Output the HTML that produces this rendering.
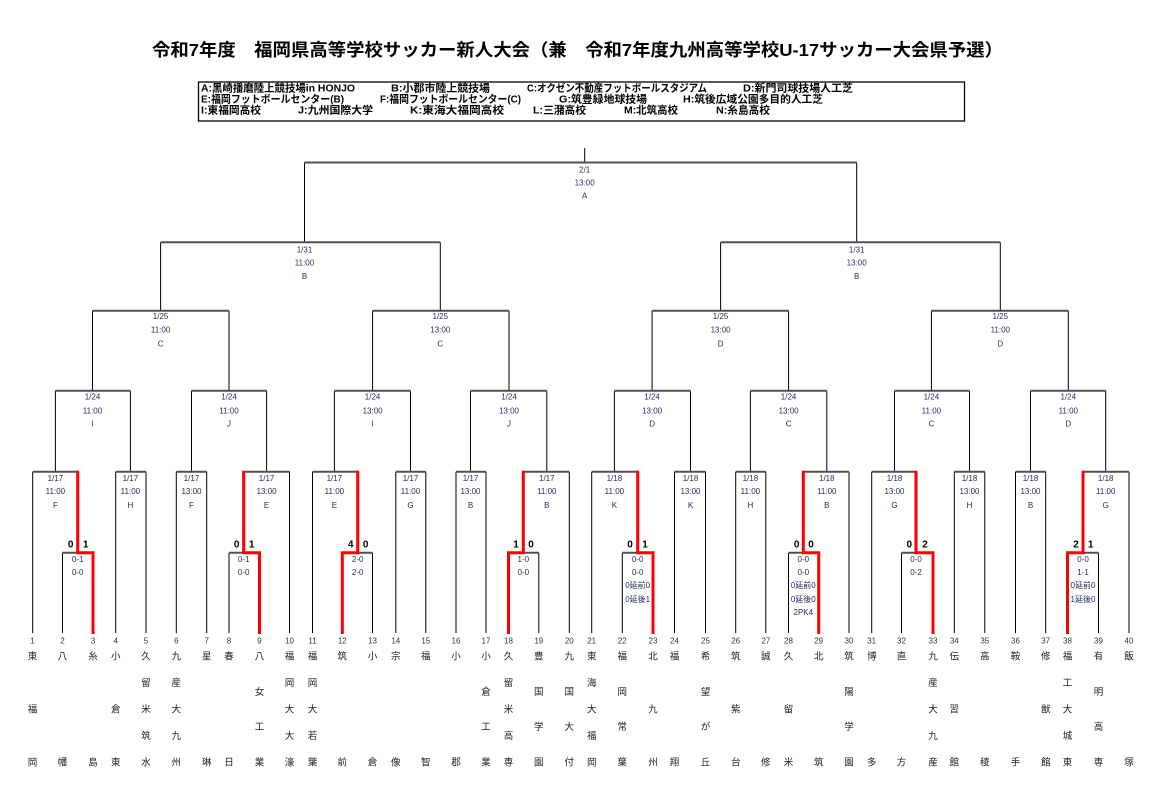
<!DOCTYPE html>
<html><head><meta charset="utf-8"><style>
html,body{margin:0;padding:0;background:#fff;}
svg{display:block}
.ln{stroke:#000;stroke-width:1;fill:none}
.bar{stroke:#505050;stroke-width:2;fill:none}
.red{stroke:#ff0000;stroke-width:3;fill:none;stroke-linejoin:miter}
.lb{font-family:"Liberation Sans","Noto Sans CJK JP",sans-serif;font-size:8px;fill:#1f2b5c;text-anchor:middle;dominant-baseline:central}
.rs{font-family:"Liberation Sans","Noto Sans CJK JP",sans-serif;font-size:8px;fill:#1f2b5c;text-anchor:middle;dominant-baseline:central}
.sc{font-family:"Liberation Sans",sans-serif;font-size:10px;font-weight:bold;fill:#000;text-anchor:middle;dominant-baseline:central}
.nm{font-family:"Liberation Sans",sans-serif;font-size:8px;fill:#333;text-anchor:middle;dominant-baseline:central}
.tm{font-family:"Liberation Sans","Noto Sans CJK JP",sans-serif;font-size:9.5px;fill:#222;text-anchor:middle;dominant-baseline:central}
.tt{font-family:"Liberation Sans","Noto Sans CJK JP",sans-serif;font-size:17.5px;font-weight:bold;fill:#000;dominant-baseline:central}
.lg{font-family:"Liberation Sans","Noto Sans CJK JP",sans-serif;font-size:10.5px;font-weight:bold;fill:#000;dominant-baseline:central}
</style></head><body>
<svg width="1159" height="796" viewBox="0 0 1159 796" xmlns="http://www.w3.org/2000/svg">
<rect width="1159" height="796" fill="#fff"/>
<text class="tt" x="152" y="50" textLength="851" lengthAdjust="spacingAndGlyphs">令和7年度　福岡県高等学校サッカー新人大会（兼　令和7年度九州高等学校U-17サッカー大会県予選）</text>

<rect x="198.5" y="82" width="766" height="39" fill="none" stroke="#000" stroke-width="1.3"/>
<text class="lg" x="201" y="88.5" textLength="154" lengthAdjust="spacingAndGlyphs">A:黒崎播磨陸上競技場in HONJO</text>
<text class="lg" x="391" y="88.5" textLength="99" lengthAdjust="spacingAndGlyphs">B:小郡市陸上競技場</text>
<text class="lg" x="527" y="88.5" textLength="180" lengthAdjust="spacingAndGlyphs">C:オクゼン不動産フットボールスタジアム</text>
<text class="lg" x="743" y="88.5" textLength="110" lengthAdjust="spacingAndGlyphs">D:新門司球技場人工芝</text>
<text class="lg" x="201" y="99.5" textLength="143" lengthAdjust="spacingAndGlyphs">E:福岡フットボールセンター(B)</text>
<text class="lg" x="380" y="99.5" textLength="141" lengthAdjust="spacingAndGlyphs">F:福岡フットボールセンター(C)</text>
<text class="lg" x="559" y="99.5" textLength="88" lengthAdjust="spacingAndGlyphs">G:筑豊緑地球技場</text>
<text class="lg" x="683" y="99.5" textLength="140" lengthAdjust="spacingAndGlyphs">H:筑後広域公園多目的人工芝</text>
<text class="lg" x="201" y="110.5" textLength="60" lengthAdjust="spacingAndGlyphs">I:東福岡高校</text>
<text class="lg" x="298" y="110.5" textLength="75" lengthAdjust="spacingAndGlyphs">J:九州国際大学</text>
<text class="lg" x="410" y="110.5" textLength="94" lengthAdjust="spacingAndGlyphs">K:東海大福岡高校</text>
<text class="lg" x="533" y="110.5" textLength="53" lengthAdjust="spacingAndGlyphs">L:三潴高校</text>
<text class="lg" x="624" y="110.5" textLength="54" lengthAdjust="spacingAndGlyphs">M:北筑高校</text>
<text class="lg" x="716" y="110.5" textLength="54" lengthAdjust="spacingAndGlyphs">N:糸島高校</text>

<!-- black verticals -->
<path class="ln" d="M584.7 148V162.5
M304.5 162.5V242.3 M856.7 162.5V242.3
M160.6 242.3V310.7 M440.3 242.3V310.7 M720.6 242.3V310.7 M1000.3 242.3V310.7
M92.5 310.7V390.7 M229 310.7V390.7 M372.6 310.7V390.7 M509 310.7V390.7 M652.1 310.7V390.7 M788.6 310.7V390.7 M931.4 310.7V390.7 M1068.3 310.7V390.7
M55.4 390.7V471.7 M130.4 390.7V471.7 M191.5 390.7V471.7 M266.6 390.7V471.7 M334.4 390.7V471.7 M410.5 390.7V471.7 M470.5 390.7V471.7 M546.8 390.7V471.7
M614.4 390.7V471.7 M690.5 390.7V471.7 M750.4 390.7V471.7 M826.8 390.7V471.7 M894.5 390.7V471.7 M969.5 390.7V471.7 M1030.5 390.7V471.7 M1105.7 390.7V471.7
M32.7 471.7V633 M115.7 471.7V633 M146 471.7V633 M176.3 471.7V633 M206.7 471.7V633 M289.5 471.7V633
M312.5 471.7V633 M395.8 471.7V633 M425.8 471.7V633 M456 471.7V633 M486 471.7V633 M569.3 471.7V633
M591.7 471.7V633 M674.5 471.7V633 M705.5 471.7V633 M735.7 471.7V633 M765.8 471.7V633 M849 471.7V633
M871.7 471.7V633 M954.3 471.7V633 M984.8 471.7V633 M1015.5 471.7V633 M1045.7 471.7V633 M1129 471.7V633
M62.5 552.7V633 M229 552.7V633 M372.5 552.7V633 M538.8 552.7V633 M622.3 552.7V633 M788.5 552.7V633 M901.5 552.7V633 M1098.5 552.7V633"/>

<!-- horizontal bars -->
<path class="bar" d="M304.5 162.5H856.7
M160.6 242.3H440.3 M720.6 242.3H1000.3
M92.5 310.7H229 M372.6 310.7H509 M652.1 310.7H788.6 M931.4 310.7H1068.3
M55.4 390.7H130.4 M191.5 390.7H266.6 M334.4 390.7H410.5 M470.5 390.7H546.8 M614.4 390.7H690.5 M750.4 390.7H826.8 M894.5 390.7H969.5 M1030.5 390.7H1105.7
M32.7 471.7H77.7 M115.7 471.7H146 M176.3 471.7H206.7 M243.7 471.7H289.5 M312.5 471.7H357.7 M395.8 471.7H425.8 M456 471.7H486 M523.3 471.7H569.3
M591.7 471.7H637.7 M674.5 471.7H705.5 M735.7 471.7H765.8 M803.3 471.7H849 M871.7 471.7H916 M954.3 471.7H984.8 M1015.5 471.7H1045.7 M1083 471.7H1129
M62.5 552.7H77.7 M229 552.7H243.7 M357.7 552.7H372.5 M523.3 552.7H538.8 M622.3 552.7H637.7 M788.5 552.7H803.3 M901.5 552.7H916 M1083 552.7H1098.5"/>

<!-- red winner paths -->
<path class="red" d="M77.7 470.7V552.7H93V634"/>
<path class="red" d="M243.7 470.7V552.7H259.5V634"/>
<path class="red" d="M357.7 470.7V552.7H342.3V634"/>
<path class="red" d="M523.3 470.7V552.7H508.5V634"/>
<path class="red" d="M637.7 470.7V552.7H653V634"/>
<path class="red" d="M803.3 470.7V552.7H818.7V634"/>
<path class="red" d="M916 470.7V552.7H933V634"/>
<path class="red" d="M1083 470.7V552.7H1067.5V634"/>

<!-- match labels -->
<g class="lb">
<text x="584.7" y="170">2/1</text><text x="584.7" y="183">13:00</text><text x="584.7" y="196">A</text>
<text x="304.5" y="250">1/31</text><text x="304.5" y="263">11:00</text><text x="304.5" y="276.5">B</text>
<text x="856.7" y="250">1/31</text><text x="856.7" y="263">13:00</text><text x="856.7" y="276.5">B</text>
<text x="160.6" y="316.7">1/25</text><text x="160.6" y="330">11:00</text><text x="160.6" y="344">C</text>
<text x="440.3" y="316.7">1/25</text><text x="440.3" y="330">13:00</text><text x="440.3" y="344">C</text>
<text x="720.6" y="316.7">1/25</text><text x="720.6" y="330">13:00</text><text x="720.6" y="344">D</text>
<text x="1000.3" y="316.7">1/25</text><text x="1000.3" y="330">11:00</text><text x="1000.3" y="344">D</text>
<text x="92.5" y="397">1/24</text><text x="92.5" y="411">11:00</text><text x="92.5" y="424">I</text>
<text x="229" y="397">1/24</text><text x="229" y="411">11:00</text><text x="229" y="424">J</text>
<text x="372.6" y="397">1/24</text><text x="372.6" y="411">13:00</text><text x="372.6" y="424">I</text>
<text x="509" y="397">1/24</text><text x="509" y="411">13:00</text><text x="509" y="424">J</text>
<text x="652.1" y="397">1/24</text><text x="652.1" y="411">13:00</text><text x="652.1" y="424">D</text>
<text x="788.6" y="397">1/24</text><text x="788.6" y="411">13:00</text><text x="788.6" y="424">C</text>
<text x="931.4" y="397">1/24</text><text x="931.4" y="411">11:00</text><text x="931.4" y="424">C</text>
<text x="1068.3" y="397">1/24</text><text x="1068.3" y="411">11:00</text><text x="1068.3" y="424">D</text>
<text x="55.4" y="478.3">1/17</text><text x="55.4" y="491.3">11:00</text><text x="55.4" y="505.3">F</text>
<text x="130.4" y="478.3">1/17</text><text x="130.4" y="491.3">11:00</text><text x="130.4" y="505.3">H</text>
<text x="191.5" y="478.3">1/17</text><text x="191.5" y="491.3">13:00</text><text x="191.5" y="505.3">F</text>
<text x="266.6" y="478.3">1/17</text><text x="266.6" y="491.3">13:00</text><text x="266.6" y="505.3">E</text>
<text x="334.4" y="478.3">1/17</text><text x="334.4" y="491.3">11:00</text><text x="334.4" y="505.3">E</text>
<text x="410.5" y="478.3">1/17</text><text x="410.5" y="491.3">11:00</text><text x="410.5" y="505.3">G</text>
<text x="470.5" y="478.3">1/17</text><text x="470.5" y="491.3">13:00</text><text x="470.5" y="505.3">B</text>
<text x="546.8" y="478.3">1/17</text><text x="546.8" y="491.3">11:00</text><text x="546.8" y="505.3">B</text>
<text x="614.4" y="478.3">1/18</text><text x="614.4" y="491.3">11:00</text><text x="614.4" y="505.3">K</text>
<text x="690.5" y="478.3">1/18</text><text x="690.5" y="491.3">13:00</text><text x="690.5" y="505.3">K</text>
<text x="750.4" y="478.3">1/18</text><text x="750.4" y="491.3">11:00</text><text x="750.4" y="505.3">H</text>
<text x="826.8" y="478.3">1/18</text><text x="826.8" y="491.3">11:00</text><text x="826.8" y="505.3">B</text>
<text x="894.5" y="478.3">1/18</text><text x="894.5" y="491.3">13:00</text><text x="894.5" y="505.3">G</text>
<text x="969.5" y="478.3">1/18</text><text x="969.5" y="491.3">13:00</text><text x="969.5" y="505.3">H</text>
<text x="1030.5" y="478.3">1/18</text><text x="1030.5" y="491.3">13:00</text><text x="1030.5" y="505.3">B</text>
<text x="1105.7" y="478.3">1/18</text><text x="1105.7" y="491.3">11:00</text><text x="1105.7" y="505.3">G</text>
</g>

<!-- scores -->
<g class="sc">
<text x="70.7" y="545">0</text><text x="85.7" y="545">1</text>
<text x="236.7" y="545">0</text><text x="251.7" y="545">1</text>
<text x="350.7" y="545">4</text><text x="365.7" y="545">0</text>
<text x="516" y="545">1</text><text x="531" y="545">0</text>
<text x="630" y="545">0</text><text x="645" y="545">1</text>
<text x="796.7" y="545">0</text><text x="811" y="545">0</text>
<text x="909.3" y="545">0</text><text x="925" y="545">2</text>
<text x="1076" y="545">2</text><text x="1090.7" y="545">1</text>
</g>
<g class="rs">
<text x="77.7" y="559.3">0-1</text><text x="77.7" y="572.3">0-0</text>
<text x="243.7" y="559.3">0-1</text><text x="243.7" y="572.3">0-0</text>
<text x="357.7" y="559.3">2-0</text><text x="357.7" y="572.3">2-0</text>
<text x="523.3" y="559.3">1-0</text><text x="523.3" y="572.3">0-0</text>
<text x="637.7" y="559.3">0-0</text><text x="637.7" y="572.3">0-0</text><text x="637.7" y="585.5">0延前0</text><text x="637.7" y="599.3">0延後1</text>
<text x="803.3" y="559.3">0-0</text><text x="803.3" y="572.3">0-0</text><text x="803.3" y="585.5">0延前0</text><text x="803.3" y="599.3">0延後0</text><text x="803.3" y="612.5">2PK4</text>
<text x="916" y="559.3">0-0</text><text x="916" y="572.3">0-2</text>
<text x="1083" y="559.3">0-0</text><text x="1083" y="572.3">1-1</text><text x="1083" y="585.5">0延前0</text><text x="1083" y="599.3">1延後0</text>
</g>

<!-- numbers -->
<g class="nm">
<text x="32.5" y="641">1</text><text x="62.5" y="641">2</text><text x="93" y="641">3</text><text x="115.7" y="641">4</text><text x="146" y="641">5</text>
<text x="176.3" y="641">6</text><text x="206.7" y="641">7</text><text x="229" y="641">8</text><text x="259.5" y="641">9</text><text x="289.5" y="641">10</text>
<text x="312.5" y="641">11</text><text x="342.3" y="641">12</text><text x="372.5" y="641">13</text><text x="395.8" y="641">14</text><text x="425.8" y="641">15</text>
<text x="456" y="641">16</text><text x="486" y="641">17</text><text x="508.5" y="641">18</text><text x="538.8" y="641">19</text><text x="569.3" y="641">20</text>
<text x="591.7" y="641">21</text><text x="622.3" y="641">22</text><text x="653" y="641">23</text><text x="674.5" y="641">24</text><text x="705.5" y="641">25</text>
<text x="735.7" y="641">26</text><text x="765.8" y="641">27</text><text x="788.5" y="641">28</text><text x="818.7" y="641">29</text><text x="849" y="641">30</text>
<text x="871.7" y="641">31</text><text x="901.5" y="641">32</text><text x="933" y="641">33</text><text x="954.3" y="641">34</text><text x="984.8" y="641">35</text>
<text x="1015.5" y="641">36</text><text x="1045.7" y="641">37</text><text x="1067.5" y="641">38</text><text x="1098.5" y="641">39</text><text x="1129" y="641">40</text>
</g>

<!-- team names -->
<g class="tm">
<text><tspan x="32.5" y="656.7">東</tspan><tspan x="32.5" y="709.5">福</tspan><tspan x="32.5" y="762.3">岡</tspan></text>
<text><tspan x="62.5" y="656.7">八</tspan><tspan x="62.5" y="762.3">幡</tspan></text>
<text><tspan x="93" y="656.7">糸</tspan><tspan x="93" y="762.3">島</tspan></text>
<text><tspan x="115.7" y="656.7">小</tspan><tspan x="115.7" y="709.5">倉</tspan><tspan x="115.7" y="762.3">東</tspan></text>
<text><tspan x="146" y="656.7">久</tspan><tspan x="146" y="683.1">留</tspan><tspan x="146" y="709.5">米</tspan><tspan x="146" y="735.9">筑</tspan><tspan x="146" y="762.3">水</tspan></text>
<text><tspan x="176.3" y="656.7">九</tspan><tspan x="176.3" y="683.1">産</tspan><tspan x="176.3" y="709.5">大</tspan><tspan x="176.3" y="735.9">九</tspan><tspan x="176.3" y="762.3">州</tspan></text>
<text><tspan x="206.7" y="656.7">星</tspan><tspan x="206.7" y="762.3">琳</tspan></text>
<text><tspan x="229" y="656.7">春</tspan><tspan x="229" y="762.3">日</tspan></text>
<text><tspan x="259.5" y="656.7">八</tspan><tspan x="259.5" y="691.9">女</tspan><tspan x="259.5" y="727.1">工</tspan><tspan x="259.5" y="762.3">業</tspan></text>
<text><tspan x="289.5" y="656.7">福</tspan><tspan x="289.5" y="683.1">岡</tspan><tspan x="289.5" y="709.5">大</tspan><tspan x="289.5" y="735.9">大</tspan><tspan x="289.5" y="762.3">濠</tspan></text>
<text><tspan x="312.5" y="656.7">福</tspan><tspan x="312.5" y="683.1">岡</tspan><tspan x="312.5" y="709.5">大</tspan><tspan x="312.5" y="735.9">若</tspan><tspan x="312.5" y="762.3">葉</tspan></text>
<text><tspan x="342.3" y="656.7">筑</tspan><tspan x="342.3" y="762.3">前</tspan></text>
<text><tspan x="372.5" y="656.7">小</tspan><tspan x="372.5" y="762.3">倉</tspan></text>
<text><tspan x="395.8" y="656.7">宗</tspan><tspan x="395.8" y="762.3">像</tspan></text>
<text><tspan x="425.8" y="656.7">福</tspan><tspan x="425.8" y="762.3">智</tspan></text>
<text><tspan x="456" y="656.7">小</tspan><tspan x="456" y="762.3">郡</tspan></text>
<text><tspan x="486" y="656.7">小</tspan><tspan x="486" y="691.9">倉</tspan><tspan x="486" y="727.1">工</tspan><tspan x="486" y="762.3">業</tspan></text>
<text><tspan x="508.5" y="656.7">久</tspan><tspan x="508.5" y="683.1">留</tspan><tspan x="508.5" y="709.5">米</tspan><tspan x="508.5" y="735.9">高</tspan><tspan x="508.5" y="762.3">専</tspan></text>
<text><tspan x="538.8" y="656.7">豊</tspan><tspan x="538.8" y="691.9">国</tspan><tspan x="538.8" y="727.1">学</tspan><tspan x="538.8" y="762.3">園</tspan></text>
<text><tspan x="569.3" y="656.7">九</tspan><tspan x="569.3" y="691.9">国</tspan><tspan x="569.3" y="727.1">大</tspan><tspan x="569.3" y="762.3">付</tspan></text>
<text><tspan x="591.7" y="656.7">東</tspan><tspan x="591.7" y="683.1">海</tspan><tspan x="591.7" y="709.5">大</tspan><tspan x="591.7" y="735.9">福</tspan><tspan x="591.7" y="762.3">岡</tspan></text>
<text><tspan x="622.3" y="656.7">福</tspan><tspan x="622.3" y="691.9">岡</tspan><tspan x="622.3" y="727.1">常</tspan><tspan x="622.3" y="762.3">葉</tspan></text>
<text><tspan x="653" y="656.7">北</tspan><tspan x="653" y="709.5">九</tspan><tspan x="653" y="762.3">州</tspan></text>
<text><tspan x="674.5" y="656.7">福</tspan><tspan x="674.5" y="762.3">翔</tspan></text>
<text><tspan x="705.5" y="656.7">希</tspan><tspan x="705.5" y="691.9">望</tspan><tspan x="705.5" y="727.1">が</tspan><tspan x="705.5" y="762.3">丘</tspan></text>
<text><tspan x="735.7" y="656.7">筑</tspan><tspan x="735.7" y="709.5">紫</tspan><tspan x="735.7" y="762.3">台</tspan></text>
<text><tspan x="765.8" y="656.7">誠</tspan><tspan x="765.8" y="762.3">修</tspan></text>
<text><tspan x="788.5" y="656.7">久</tspan><tspan x="788.5" y="709.5">留</tspan><tspan x="788.5" y="762.3">米</tspan></text>
<text><tspan x="818.7" y="656.7">北</tspan><tspan x="818.7" y="762.3">筑</tspan></text>
<text><tspan x="849" y="656.7">筑</tspan><tspan x="849" y="691.9">陽</tspan><tspan x="849" y="727.1">学</tspan><tspan x="849" y="762.3">園</tspan></text>
<text><tspan x="871.7" y="656.7">博</tspan><tspan x="871.7" y="762.3">多</tspan></text>
<text><tspan x="901.5" y="656.7">直</tspan><tspan x="901.5" y="762.3">方</tspan></text>
<text><tspan x="933" y="656.7">九</tspan><tspan x="933" y="683.1">産</tspan><tspan x="933" y="709.5">大</tspan><tspan x="933" y="735.9">九</tspan><tspan x="933" y="762.3">産</tspan></text>
<text><tspan x="954.3" y="656.7">伝</tspan><tspan x="954.3" y="709.5">習</tspan><tspan x="954.3" y="762.3">館</tspan></text>
<text><tspan x="984.8" y="656.7">高</tspan><tspan x="984.8" y="762.3">稜</tspan></text>
<text><tspan x="1015.5" y="656.7">鞍</tspan><tspan x="1015.5" y="762.3">手</tspan></text>
<text><tspan x="1045.7" y="656.7">修</tspan><tspan x="1045.7" y="709.5">猷</tspan><tspan x="1045.7" y="762.3">館</tspan></text>
<text><tspan x="1067.5" y="656.7">福</tspan><tspan x="1067.5" y="683.1">工</tspan><tspan x="1067.5" y="709.5">大</tspan><tspan x="1067.5" y="735.9">城</tspan><tspan x="1067.5" y="762.3">東</tspan></text>
<text><tspan x="1098.5" y="656.7">有</tspan><tspan x="1098.5" y="691.9">明</tspan><tspan x="1098.5" y="727.1">高</tspan><tspan x="1098.5" y="762.3">専</tspan></text>
<text><tspan x="1129" y="656.7">飯</tspan><tspan x="1129" y="762.3">塚</tspan></text>
</g>
</svg>
</body></html>
